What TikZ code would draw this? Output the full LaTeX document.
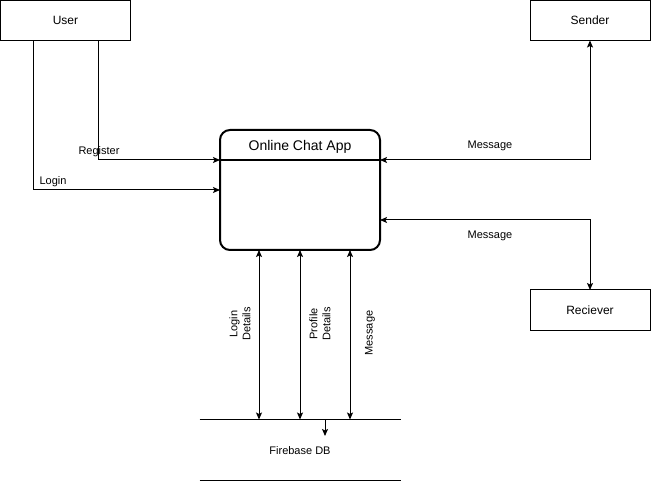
\documentclass[tikz,border=0pt]{standalone}
\usepackage{fontspec}
\setmainfont{Liberation Sans}
\usetikzlibrary{positioning, arrows.meta}

\begin{document}
\begin{tikzpicture}[x=1pt, y=-1pt, line width=1pt,
  ent/.style={draw, inner sep=0, outer sep=0, minimum width=120pt, minimum height=40pt, font=\fontsize{12}{14}\selectfont},
  proc/.style={draw, line width=2pt, rounded corners=10pt, inner sep=0, outer sep=0, minimum width=160pt, minimum height=120pt},
  lbl/.style={inner sep=1pt, font=\fontsize{11}{13}\selectfont},
  vlbl/.style={lbl, rotate=90, align=center},
  flow/.style={-{Stealth[length=7pt, width=6pt, inset=1.5pt]}},
  both/.style={{Stealth[length=7pt, width=6pt, inset=1.5pt]}-{Stealth[length=7pt, width=6pt, inset=1.5pt]}}]

          \useasboundingbox (0,0) rectangle (651,481);

          \node[ent, minimum width=130pt] at (65.5,20.5) (user) {User};
          \node[ent] at (590,20.5) (sender) {Sender};
          \node[ent] at (590,310) (recv) {Reciever};

          \node[proc] at (300,190) (app) {};
          \node[font=\fontsize{14}{16}\selectfont] at (300,146.5) (title) {Online Chat App};
          \coordinate (dl) at ([yshift=-30pt]app.north west);
          \coordinate (dr) at ([yshift=-30pt]app.north east);
          \draw[line width=2pt] (dl) -- (dr);

          \node[lbl, minimum width=200pt, minimum height=60pt, text height=8pt, text depth=0pt] at (300,450) (db) {Firebase DB};
          \draw (db.north west) -- (db.north east);
          \draw (db.south west) -- (db.south east);

          % user side
          \draw[flow] ([xshift=32.5pt]user.south) |- (dl);
          \draw[flow] ([xshift=-32pt]user.south) |- (app.west);
          \node[lbl] at (99,152) (reg) {Register};
          \node[lbl] at (53,182) (login) {Login};

          % sender / reciever
          \draw[both] (dr) -| (sender.south);
          \draw[both] ([yshift=-30pt]app.east) -| (recv.north);
          \node[lbl] at (490,146) (msgs) {Message};
          \node[lbl] at (490,236) (msgr) {Message};

          % database
          \draw[both] ([xshift=-41pt]app.south) -- ([xshift=-41pt]db.north);
          \draw[both] (app.south) -- (db.north);
          \draw[both] ([xshift=50pt]app.south) -- ([xshift=50pt]db.north);
          \coordinate (stub) at (325,436);
          \draw[flow] ([xshift=25pt]db.north) -- (stub);

          \node[vlbl] at (240,324) (lgd) {Login\\Details};
          \node[vlbl] at (320,324) (pfd) {Profile\\Details};
          \node[vlbl] at (370,333) (msgd) {Message};

      \end{tikzpicture}
\end{document}
